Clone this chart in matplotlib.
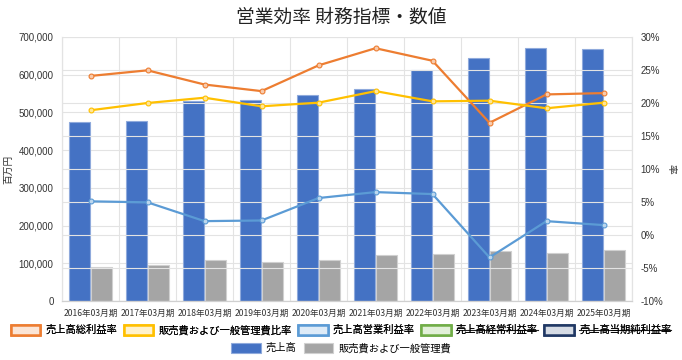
import matplotlib
matplotlib.use('Agg')
import matplotlib.pyplot as plt
from matplotlib.patches import Patch
from matplotlib.lines import Line2D
import numpy as np

plt.rcParams['font.family'] = ['Liberation Sans', 'Noto Sans CJK JP', 'DejaVu Sans']

# Data
periods = ['2016年03月期', '2017年03月期', '2018年03月期', '2019年03月期', '2020年03月期',
           '2021年03月期', '2022年03月期', '2023年03月期', '2024年03月期', '2025年03月期']
sales = [474600, 477000, 531000, 533000, 545000, 562000, 611700, 645000, 671000, 668000]
sga = [89300, 94600, 109500, 103400, 108700, 122000, 123800, 131700, 128100, 134400]
gross_margin = [24.1, 24.95, 22.8, 21.8, 25.7, 28.3, 26.4, 17.0, 21.3, 21.5]
sga_ratio = [18.9, 20.0, 20.8, 19.5, 20.05, 21.8, 20.25, 20.35, 19.2, 20.05]
op_margin = [5.1, 4.95, 2.1, 2.2, 5.6, 6.5, 6.2, -3.4, 2.1, 1.5]

C_BLUE = '#4472C4'
C_GRAY = '#A5A5A5'
C_ORANGE = '#ED7D31'
C_YELLOW = '#FFC000'
C_LBLUE = '#5B9BD5'
GRID = '#E3E3E3'

fig = plt.figure(figsize=(6.82, 3.6), dpi=100)
ax = fig.add_axes([62 / 682, 1 - 301 / 360, 570 / 682, 264 / 360])
ax2 = ax.twinx()

x = np.arange(len(periods))
w = 0.36
ax.bar(x - 0.195, sales, w, color=C_BLUE, edgecolor='#8FAADC', linewidth=0.8, zorder=2)
ax.bar(x + 0.195, sga, w, color=C_GRAY, edgecolor='#D0D0D0', linewidth=0.8, zorder=2)

ax.set_xlim(-0.5, len(periods) - 0.5)
ax.set_ylim(0, 700000)
ax.set_yticks(np.arange(0, 700001, 100000))
ax.set_yticklabels([f'{v:,}' for v in range(0, 700001, 100000)], fontsize=7, color='#333333')
ax.set_xticks(x)
ax.set_xticklabels(periods, fontsize=6.2, color='#333333', family=['Noto Sans CJK JP'])
ax.set_xticks(np.arange(-0.5, len(periods)), minor=True)
ax.tick_params(axis='x', which='major', length=0, pad=6)
ax.tick_params(axis='x', which='minor', length=0)
ax.tick_params(axis='y', length=0, pad=6)
ax.grid(axis='y', which='major', color=GRID, linewidth=0.8, zorder=0)
ax.grid(axis='x', which='minor', color=GRID, linewidth=0.8, zorder=0)
ax.set_axisbelow(True)
ax.set_ylabel('百万円', fontsize=7, family=['Noto Sans CJK JP'], color='#333333', labelpad=4)

ax2.plot(x, gross_margin, color=C_ORANGE, lw=1.6, marker='o', ms=3.5,
         mfc='#F8CBAD', mec=C_ORANGE, mew=0.8, zorder=4)
ax2.plot(x, sga_ratio, color=C_YELLOW, lw=1.6, marker='o', ms=3.5,
         mfc='#FFE699', mec=C_YELLOW, mew=0.8, zorder=4)
ax2.plot(x, op_margin, color=C_LBLUE, lw=1.6, marker='o', ms=3.5,
         mfc='#BDD7EE', mec=C_LBLUE, mew=0.8, zorder=4)
ax2.set_ylim(-10, 30)
ax2.set_yticks(np.arange(-10, 31, 5))
ax2.set_yticklabels([f'{v}%' for v in range(-10, 31, 5)], fontsize=7, color='#333333')
ax2.tick_params(axis='y', length=0, pad=6)
ax2.grid(axis='y', color=GRID, linewidth=0.8, zorder=0)
ax2.set_ylabel('率', fontsize=7, family=['Noto Sans CJK JP'], color='#333333',
               rotation=-90, labelpad=10)

for a in (ax, ax2):
    a.spines['top'].set_visible(False)
    a.spines['left'].set_color(GRID)
    a.spines['right'].set_color(GRID)
    a.spines['bottom'].set_color('#D0D0D0')

fig.text(0.5, 1 - 17 / 360, '営業効率 財務指標・数値', ha='center', va='center',
         fontsize=13.5, family=['Noto Sans CJK JP'], color='#222222')

row1 = [
    Patch(facecolor='#FBE5D6', edgecolor=C_ORANGE, lw=1.8),
    Patch(facecolor='#FFF2CC', edgecolor=C_YELLOW, lw=1.8),
    Patch(facecolor='#DEEBF7', edgecolor=C_LBLUE, lw=1.8),
    Patch(facecolor='#E2F0D9', edgecolor='#70AD47', lw=1.8),
    Patch(facecolor='#D6DCE5', edgecolor='#203864', lw=1.8),
]
labels1 = ['売上高総利益率', '販売費および一般管理費比率', '売上高営業利益率',
           '売上高経常利益率', '売上高当期純利益率']
leg1 = fig.legend(row1, labels1, loc='center', bbox_to_anchor=(0.5, 1 - 330 / 360),
                  ncol=5, frameon=False, handlelength=2.9, handleheight=1.1,
                  columnspacing=0.6, handletextpad=0.5,
                  prop={'family': 'Noto Sans CJK JP', 'size': 7.4})
row2 = [Patch(facecolor=C_BLUE, edgecolor='#8FAADC', lw=0.8),
        Patch(facecolor=C_GRAY, edgecolor='#D0D0D0', lw=0.8)]
leg2 = fig.legend(row2, ['売上高', '販売費および一般管理費'], loc='center',
                  bbox_to_anchor=(0.5, 1 - 348 / 360), ncol=2, frameon=False,
                  handlelength=2.9, handleheight=1.1, columnspacing=0.7, handletextpad=0.5,
                  prop={'family': 'Noto Sans CJK JP', 'size': 7.4})
fig.add_artist(leg1)

# strike through hidden series in the legend
fig.canvas.draw()
r = fig.canvas.get_renderer()
inv = fig.transFigure.inverted()
for t in leg1.get_texts()[3:]:
    bb = t.get_window_extent(r)
    (x0, y0), (x1, y1) = inv.transform([(bb.x0, bb.y0), (bb.x1, bb.y1)])
    ym = (y0 + y1) / 2
    fig.add_artist(Line2D([x0, x1], [ym, ym], transform=fig.transFigure,
                          color='#222222', lw=0.8))

fig.savefig('out.png', dpi=100)
